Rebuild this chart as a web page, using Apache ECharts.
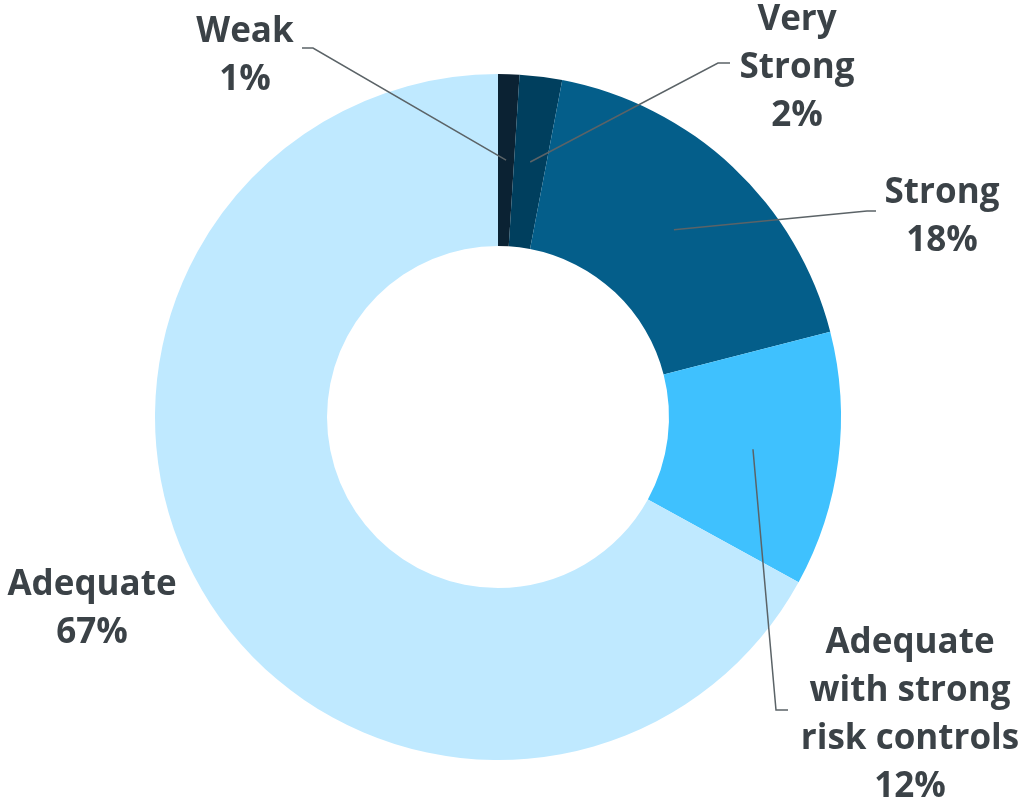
<!DOCTYPE html>
<html>
<head>
<meta charset="utf-8">
<script src="https://cdn.jsdelivr.net/npm/echarts@6/dist/echarts.min.js"></script>
<style>
  html, body { margin: 0; padding: 0; background: #ffffff; }
  #chart { width: 1018px; height: 798px; }
</style>
</head>
<body>
<div id="chart"></div>
<script>
// ---- data ----
var categories = ['Weak', 'Very\nStrong', 'Strong', 'Adequate\nwith strong\nrisk controls', 'Adequate'];
var values = [1, 2, 18, 12, 67];
var colors = ['#0b2233', '#003f5e', '#045e8a', '#3fc1fe', '#bfe9ff'];

// ---- layout (pixels) ----
var CX = 498, CY = 417, R_IN = 171, R_OUT = 343;
// label block centre and the point where the leader line meets the label
var labelPos = [
  { x: 245, y: 56, lineEnd: [313, 48], tail: [302, 48] },
  { x: 797, y: 68, lineEnd: [718, 63], tail: [730, 63] },
  { x: 942, y: 217, lineEnd: [867, 211], tail: [876, 211] },
  { x: 910, y: 715, lineEnd: [776, 710], tail: [788, 710] },
  { x: 92, y: 609, lineEnd: null, tail: null }
];

var total = values.reduce(function (a, b) { return a + b; }, 0);
var midAngles = [];
(function () {
  var cum = 0;
  for (var i = 0; i < values.length; i++) {
    midAngles.push((cum + values[i] / 2) / total * Math.PI * 2);
    cum += values[i];
  }
})();

var chart = echarts.init(document.getElementById('chart'), null, { renderer: 'canvas' });

var ringData = categories.map(function (c, i) {
  return { name: c, value: values[i], itemStyle: { color: colors[i] } };
});
var labelData = categories.map(function (c, i) {
  var item = { name: c, value: values[i], itemStyle: { color: 'rgba(0,0,0,0)' } };
  if (!labelPos[i].lineEnd) item.labelLine = { show: false };
  return item;
});

chart.setOption({
  animation: false,
  backgroundColor: '#ffffff',
  series: [{
    type: 'pie',
    z: 2,
    center: [CX, CY],
    radius: [R_IN, R_OUT],
    startAngle: 90,
    clockwise: true,
    emphasis: { disabled: true },
    itemStyle: { borderWidth: 0 },
    label: { show: false },
    labelLine: { show: false },
    data: ringData
  }, {
    type: 'pie',
    z: 5,
    silent: true,
    center: [CX, CY],
    radius: [R_IN, R_OUT],
    startAngle: 90,
    clockwise: true,
    percentPrecision: 0,
    avoidLabelOverlap: false,
    emphasis: { disabled: true },
    itemStyle: { borderWidth: 0 },
    label: {
      show: true,
      position: 'outside',
      formatter: '{b}\n{d}%',
      fontFamily: 'Open Sans',
      fontWeight: 'bold',
      fontSize: 35,
      lineHeight: 48,
      color: '#3b4247',
      align: 'center'
    },
    labelLine: {
      show: true,
      lineStyle: { color: '#5b6367', width: 1.5 }
    },
    labelLayout: function (params) {
      var i = params.dataIndex;
      var lp = labelPos[i];
      var res = { x: lp.x, y: lp.y, align: 'center', verticalAlign: 'middle' };
      if (lp.lineEnd) {
        var rMid = (R_IN + R_OUT) / 2;
        var a = midAngles[i];
        var start = [CX + rMid * Math.sin(a), CY - rMid * Math.cos(a)];
        res.labelLinePoints = [start, lp.lineEnd, lp.tail];
      }
      return res;
    },
    data: labelData
  }]
});
</script>
</body>
</html>
